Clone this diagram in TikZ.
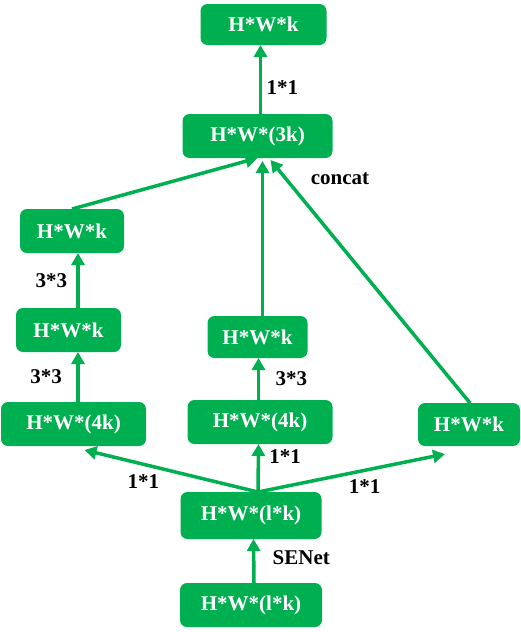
\documentclass[tikz,border=0pt]{standalone}
\usepackage{fontspec}
\setmainfont{Liberation Serif}
\usepackage{xcolor}
\usetikzlibrary{arrows.meta, positioning}
\definecolor{sgreen}{HTML}{00B050}

\begin{document}
\begin{tikzpicture}[
  x=1pt, y=-1pt,
  box/.style={fill=sgreen,draw=none,rounded corners=7pt,minimum height=44pt,
              inner sep=2pt,outer sep=0pt,text=white,font=\fontsize{21}{25}\selectfont\bfseries},
  lab/.style={inner sep=0pt,outer sep=0pt,text=black,font=\fontsize{21}{25}\selectfont\bfseries},
  link/.style={-{Triangle[length=12pt,width=13pt]}, line width=3.5pt, draw=sgreen},
]
\useasboundingbox (0,0) rectangle (520,632);

% centre column
\node[box, minimum width=142pt] (in) at (251,605) {H*W*(l*k)};
\node[box, minimum width=141pt, minimum height=47pt, above=44pt of in] (se) {H*W*(l*k)};
\node[box, minimum width=145pt, above=48pt of se, xshift=9pt] (mid4k) {H*W*(4k)};
\node[box, minimum width=100pt, minimum height=42pt, above=42pt of mid4k, xshift=-2.5pt] (mid3) {H*W*k};
\node[box, minimum width=150pt, above=158pt of mid3] (cat) {H*W*(3k)};
\node[box, minimum width=126pt, minimum height=41pt, above=69pt of cat, xshift=6pt] (out) {H*W*k};

% left column
\node[box, minimum width=145pt] (l4k) at (73.5,424) {H*W*(4k)};
\node[box, minimum width=105pt, above=50pt of l4k, xshift=-5pt] (l3a) {H*W*k};
\node[box, minimum width=104pt, above=55pt of l3a, xshift=3.5pt] (l3b) {H*W*k};

% right branch
\node[box, minimum width=102pt, minimum height=43pt] (r1) at (469,424.5) {H*W*k};

\node[lab] (concat) at (340,179) {concat};

% Edges
\draw[link] ([xshift=3pt]in.north) -- node[lab, right=19pt, pos=0.57]{SENet} ([xshift=2.5pt]se.south);
\draw[link] ([xshift=7pt]se.north) -- node[lab, right=11pt, pos=0.73]{1*1} ([xshift=-1.5pt]mid4k.south);
\draw[link] ([xshift=7pt]se.north) -- node[lab, below=10pt, pos=0.66]{1*1} ([xshift=11pt,yshift=-4pt]l4k.south);
\draw[link] ([xshift=7pt]se.north) -- node[lab, below=9pt, pos=0.57]{1*1} ([xshift=-24pt,yshift=-8pt]r1.south);
\draw[link] ([xshift=4.5pt]l4k.north) -- node[lab, left=16pt]{3*3} ([xshift=9.5pt]l3a.south);
\draw[link] ([xshift=9.5pt]l3a.north) -- node[lab, left=11pt]{3*3} ([xshift=6pt]l3b.south);
\draw[link] ([xshift=-1.5pt]mid4k.north) -- node[lab, right=17pt]{3*3} ([xshift=1pt]mid3.south);
\draw[link] (l3b.north) -- (cat.south);
\draw[link] ([xshift=5pt]mid3.north) -- ([xshift=5pt,yshift=-3pt]cat.south);
\draw[link] ([xshift=1pt]r1.north) -- ([xshift=13pt,yshift=-2pt]cat.south);
\draw[link] ([xshift=3pt]cat.north) -- node[lab, right=6pt, pos=0.38]{1*1} ([xshift=-3pt]out.south);

\end{tikzpicture}
\end{document}
